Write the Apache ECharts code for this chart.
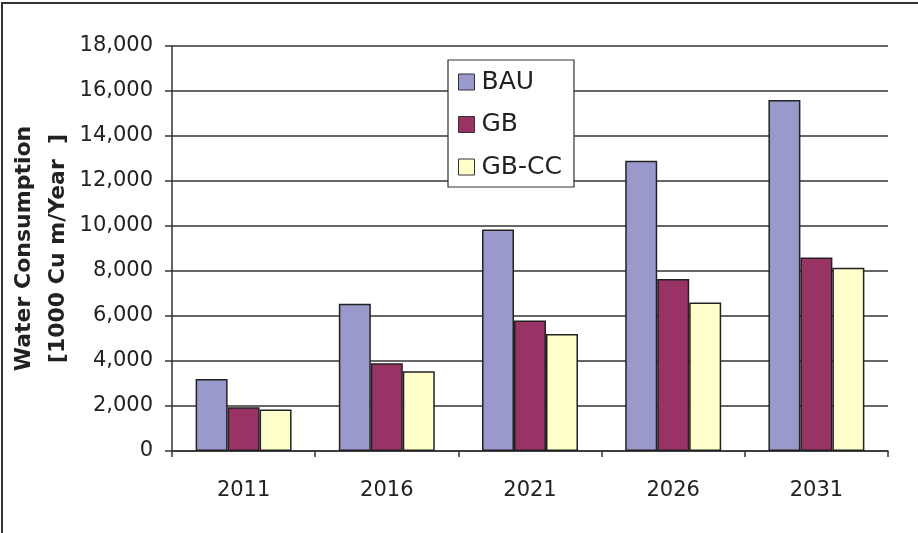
<!DOCTYPE html>
<html>
<head>
<meta charset="utf-8">
<script src="https://cdn.jsdelivr.net/npm/echarts@6/dist/echarts.min.js"></script>
<style>
  html, body { margin: 0; padding: 0; background: #fff; }
  #frame { position: absolute; left: 1px; top: 2px; width: 917px; height: 531px;
           border-left: 2px solid #333; border-top: 2px solid #333; box-sizing: border-box; }
  #chart { position: absolute; left: 0; top: 0; width: 918px; height: 533px; }
</style>
</head>
<body>
<div id="frame"></div>
<div id="chart"></div>
<script>
// Projected water consumption by scenario (1000 cubic metres per year)
const years = ['2011', '2016', '2021', '2026', '2031'];
const bau   = [3200, 6550, 9850, 12900, 15600];
const gb    = [1950, 3900, 5800, 7650, 8600];
const gbcc  = [1850, 3550, 5200, 6600, 8150];

const FONT = 'DejaVu Sans';
const edge = { borderColor: '#222', borderWidth: 1.5 };

const chart = echarts.init(document.getElementById('chart'), null, { renderer: 'canvas' });
chart.setOption({
  animation: false,
  backgroundColor: 'transparent',
  textStyle: { fontFamily: FONT },
  grid: { left: 172, right: 30, top: 46, bottom: 82, containLabel: false, outerBoundsMode: 'none' },
  legend: {
    orient: 'vertical',
    left: 448, top: 60,
    padding: [9, 12, 7, 10],
    itemGap: 16.5,
    itemWidth: 16, itemHeight: 16,
    backgroundColor: '#fff',
    borderColor: '#333', borderWidth: 1.2,
    borderRadius: 0,
    icon: 'rect',
    itemStyle: { borderColor: '#333', borderWidth: 1 },
    textStyle: { fontFamily: FONT, fontSize: 25, lineHeight: 26, color: '#222', padding: [0, 0, 0, 2] },
    data: ['BAU', 'GB', 'GB-CC']
  },
  xAxis: {
    type: 'category',
    data: years,
    axisLine: { lineStyle: { color: '#333', width: 1.5 } },
    axisTick: { show: true, length: 6, inside: false, alignWithLabel: false, lineStyle: { color: '#333', width: 1.5 } },
    axisLabel: { fontFamily: FONT, fontSize: 21, color: '#222', margin: 29 }
  },
  yAxis: {
    type: 'value',
    min: 0, max: 18000, interval: 2000,
    name: 'Water Consumption\n[1000 Cu m/Year  ]',
    nameLocation: 'middle',
    nameRotate: 90,
    nameGap: 97,
    nameMoveOverlap: false,
    nameTextStyle: { fontFamily: FONT, fontSize: 22, fontWeight: 'bold', color: '#222', lineHeight: 34, align: 'center' },
    axisLine: { show: true, lineStyle: { color: '#333', width: 1.5 } },
    axisTick: { show: true, length: 7, lineStyle: { color: '#333', width: 1.5 } },
    axisLabel: {
      fontFamily: FONT, fontSize: 21, color: '#222', margin: 19,
      formatter: v => v.toLocaleString('en-US')
    },
    splitLine: { show: true, lineStyle: { color: '#333', width: 1.5 } }
  },
  series: [
    { name: 'BAU',   type: 'bar', data: bau,  barGap: '0%', barCategoryGap: '33%',
      itemStyle: Object.assign({ color: '#9999cc' }, edge) },
    { name: 'GB',    type: 'bar', data: gb,   barGap: '0%', barCategoryGap: '33%',
      itemStyle: Object.assign({ color: '#993366' }, edge) },
    { name: 'GB-CC', type: 'bar', data: gbcc, barGap: '0%', barCategoryGap: '33%',
      itemStyle: Object.assign({ color: '#ffffcc' }, edge) }
  ]
});
</script>
</body>
</html>
